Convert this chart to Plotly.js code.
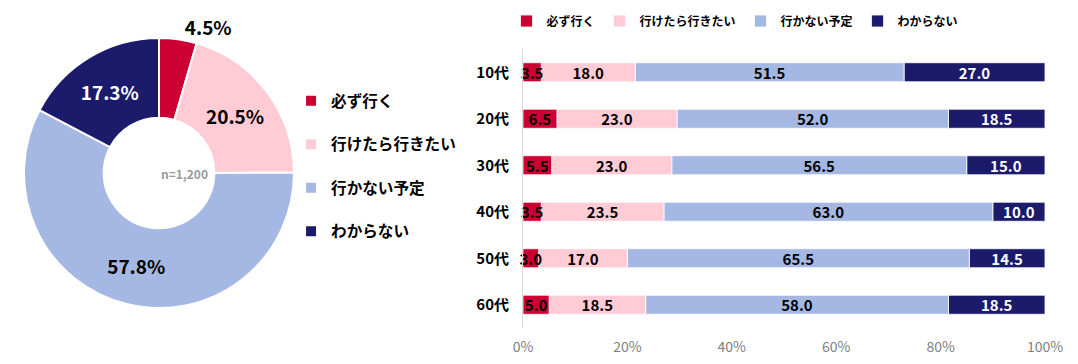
<!DOCTYPE html>
<html><head><meta charset="utf-8">
<script src="https://cdn.plot.ly/plotly-3.0.1.min.js"></script>
<style>html,body{margin:0;padding:0;background:#fff}#chart{width:1078px;height:364px}</style>
</head><body><div id="chart"></div>
<script>
// ---- data ----
const categories = ['必ず行く', '行けたら行きたい', '行かない予定', 'わからない'];
const totalShare = [4.5, 20.5, 57.8, 17.3];
const sampleLabel = 'n=1,200';
const ageGroups = ['10代', '20代', '30代', '40代', '50代', '60代'];
const mustGo = [3.5, 6.5, 5.5, 3.5, 3.0, 5.0];
const goIfCan = [18.0, 23.0, 23.0, 23.5, 17.0, 18.5];
const notGoing = [51.5, 52.0, 56.5, 63.0, 65.5, 58.0];
const unknown = [27.0, 18.5, 15.0, 10.0, 14.5, 18.5];
const xTickVals = [0, 20, 40, 60, 80, 100];

// ---- style ----
const colors = ['#CC0033', '#FFCCD6', '#A4B8E3', '#1B1A6B'];
const textColors = ['#000000', '#000000', '#000000', '#ffffff'];
const JP = '"Noto Sans CJK JP", "Noto Sans", sans-serif';

const pieDomX = [24/1078, 294/1078];
const pieDomY = [1 - 308/364, 1 - 38/364];

const pie = {
  type: 'pie',
  labels: categories.map(c => c + '<br>\u00a0'),
  values: totalShare,
  sort: false,
  direction: 'clockwise',
  rotation: 0,
  hole: 0.41,
  domain: {x: pieDomX, y: pieDomY},
  marker: {colors: colors, line: {color: '#ffffff', width: 2}},
  texttemplate: '%{value:.1f}%',
  textposition: ['outside', 'inside', 'inside', 'inside'],
  insidetextorientation: 'horizontal',
  insidetextfont: {family: JP, size: 19, color: textColors, weight: 'bold'},
  outsidetextfont: {family: JP, size: 19, color: '#000', weight: 'bold'},
  automargin: false,
  legend: 'legend2',
  hoverinfo: 'skip'
};

// stacked bars: bases computed from the data; drawn in reverse so that
// labels of narrow left segments are not covered by the next segment
const series = [mustGo, goIfCan, notGoing, unknown];
const bases = series.map((vals, i) =>
  vals.map((_, j) => series.slice(0, i).reduce((s, arr) => s + arr[j], 0)));
const bars = series.map((vals, i) => ({
  type: 'bar',
  orientation: 'h',
  name: categories[i],
  x: vals,
  base: bases[i],
  y: ageGroups,
  xaxis: 'x', yaxis: 'y',
  marker: {color: colors[i], line: {color: '#ffffff', width: 0.8}},
  text: vals.map(v => v.toFixed(1)),
  textposition: 'inside',
  insidetextanchor: 'middle',
  textangle: 0,
  constraintext: 'none',
  cliponaxis: false,
  textfont: {family: JP, size: 15, color: textColors[i], weight: 'bold'},
  legend: 'legend',
  hoverinfo: 'skip'
})).reverse();

const layout = {
  width: 1078, height: 364,
  margin: {l: 0, r: 0, t: 0, b: 0},
  paper_bgcolor: '#fff', plot_bgcolor: '#fff',
  barmode: 'overlay',
  bargap: 0.59,
  showlegend: true,
  font: {family: JP, color: '#000'},
  xaxis: {
    domain: [523/1078, 1045/1078],
    range: [0, 100],
    tickvals: xTickVals,
    ticktext: xTickVals.map(v => v + '%'),
    showgrid: false, zeroline: false, showline: false,
    ticks: '',
    ticklabelstandoff: 9,
    tickfont: {family: JP, size: 14, color: '#808080'},
    fixedrange: true
  },
  yaxis: {
    domain: [1 - 328/364, 1 - 49/364],
    autorange: 'reversed',
    type: 'category',
    showgrid: false, zeroline: false,
    showline: true, linecolor: '#d9d9d9', linewidth: 1,
    ticks: '',
    ticklabelstandoff: 10,
    tickfont: {family: JP, size: 15, color: '#000', weight: 'bold'},
    fixedrange: true
  },
  legend: {
    orientation: 'h',
    x: 735/1078, xanchor: 'center',
    y: 1 - 21/364, yanchor: 'middle',
    font: {family: JP, size: 12, color: '#000', weight: 'bold'},
    itemclick: false, itemdoubleclick: false,
    traceorder: 'reversed',
    bgcolor: 'rgba(0,0,0,0)'
  },
  legend2: {
    orientation: 'v',
    x: 0.27, xanchor: 'left',
    y: 1 - 84/364, yanchor: 'top',
    valign: 'top',
    font: {family: JP, size: 15.6, color: '#000', weight: 'bold'},
    itemclick: false, itemdoubleclick: false,
    bgcolor: 'rgba(0,0,0,0)'
  },
  annotations: [{
    xref: 'paper', yref: 'paper',
    x: (pieDomX[0] + pieDomX[1]) / 2, y: (pieDomY[0] + pieDomY[1]) / 2,
    text: sampleLabel, showarrow: false,
    font: {family: JP, size: 12, color: '#9a9a9a', weight: 'bold'}
  }]
};

Plotly.newPlot('chart', [pie, ...bars], layout, {staticPlot: true, displayModeBar: false});
</script></body></html>
